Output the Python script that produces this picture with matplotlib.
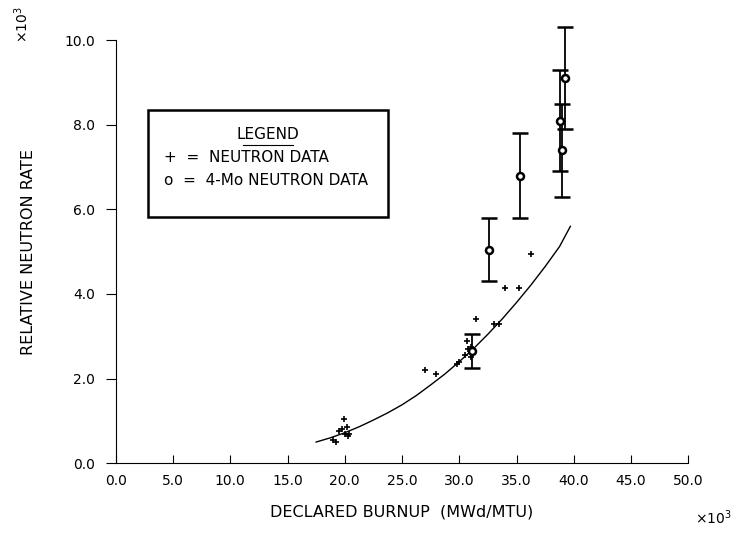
import numpy as np
import matplotlib
matplotlib.use("Agg")
import matplotlib.pyplot as plt
from matplotlib.patches import Rectangle

# neutron data (+), burnup and rate in units of 1e3
nd_x = [19.0, 19.2, 19.5, 19.8, 20.0, 20.2, 20.4, 19.9, 20.3,
        27.0, 28.0, 29.8, 30.0, 30.5, 30.8, 31.0, 31.2, 30.7, 31.0,
        31.5, 33.0, 33.5, 34.0, 35.2, 36.3]
nd_y = [0.55, 0.5, 0.75, 0.8, 0.7, 0.85, 0.7, 1.05, 0.65,
        2.2, 2.1, 2.35, 2.4, 2.55, 2.7, 2.5, 2.6, 2.9, 2.75,
        3.4, 3.3, 3.3, 4.15, 4.15, 4.95]

# 4-Mo neutron data (o) with error bars
mo_x = [31.1, 32.6, 35.3, 38.8, 39.0, 39.2]
mo_y = [2.65, 5.05, 6.8, 8.1, 7.4, 9.1]
mo_err = [0.4, 0.75, 1.0, 1.2, 1.1, 1.2]

# fitted curve
fit_x = [17.5, 18.75, 20.0, 21.25, 22.5, 23.75, 25.0, 26.25, 27.5, 28.75,
         30.0, 31.25, 32.5, 33.75, 35.0, 36.25, 37.5, 38.75, 39.7]
fit_y = [0.5, 0.6, 0.72, 0.86, 1.02, 1.19, 1.38, 1.6, 1.85, 2.11,
         2.4, 2.71, 3.05, 3.41, 3.8, 4.21, 4.65, 5.12, 5.6]

xticks = [0, 5, 10, 15, 20, 25, 30, 35, 40, 45, 50]
yticks = [0, 2, 4, 6, 8, 10]

plt.rcParams['font.family'] = ['DejaVu Sans']
fig = plt.figure(figsize=(7.37, 5.43), dpi=100)
ax = fig.add_axes([0.157, 0.147, 0.777, 0.779])

ax.plot(fit_x, fit_y, color='black', lw=1.0)
ax.plot(nd_x, nd_y, '+', color='black', ms=4, mew=1.2)
ax.errorbar(mo_x, mo_y, yerr=mo_err, fmt='o', color='black', mfc='white',
            ms=5, mew=1.8, capsize=6, elinewidth=1.3, clip_on=False)

ax.set_xlim(0, 50)
ax.set_ylim(0, 10)
ax.set_xticks(xticks)
ax.set_yticks(yticks)
ax.set_xticklabels(['%.1f' % v for v in xticks])
ax.set_yticklabels(['%.1f' % v for v in yticks])
ax.tick_params(axis='x', direction='in', length=6, labelsize=10, pad=8)
ax.tick_params(axis='y', direction='out', length=7, labelsize=10, pad=8)
for s in ['top', 'right']:
    ax.spines[s].set_visible(False)
ax.set_xlabel('DECLARED BURNUP  (MWd/MTU)', fontsize=11.5, labelpad=12)
ax.set_ylabel('RELATIVE NEUTRON RATE', fontsize=11.5, labelpad=20)

fig.text(0.968, 0.035, r'$\times10^3$', fontsize=10, ha='center')
fig.text(0.03, 0.955, r'$\times10^3$', fontsize=10, ha='center', va='center',
         rotation=90)

# legend box
fig.patches.append(Rectangle((0.201, 0.6), 0.326, 0.197, transform=fig.transFigure,
                             fill=False, ec='black', lw=1.8))
fig.text(0.364, 0.752, 'LEGEND', fontsize=11, ha='center', va='center')
fig.add_artist(plt.Line2D([0.33, 0.398], [0.733, 0.733], color='black', lw=0.8))
fig.text(0.222, 0.71, '+  =  NEUTRON DATA', fontsize=11, va='center')
fig.text(0.222, 0.668, 'o  =  4-Mo NEUTRON DATA', fontsize=11, va='center')

fig.savefig('out.png', dpi=100)
